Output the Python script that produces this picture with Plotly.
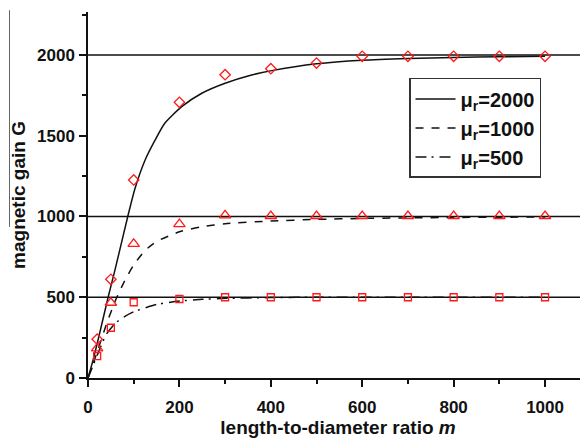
import plotly.graph_objects as go

# ---- data ----
m_meas = [20, 50, 100, 200, 300, 400, 500, 600, 700, 800, 900, 1000]
G_meas_2000 = [240, 611, 1226, 1707, 1878, 1915, 1950, 1992, 1992, 1992, 1992, 1992]
G_meas_1000 = [184, 466, 830, 953, 1007, 1003, 1003, 1003, 1003, 1003, 1003, 1003]
G_meas_500 = [135, 311, 469, 489, 500, 500, 500, 500, 500, 500, 500, 500]

m_curve_2000 = [0, 10, 22, 44, 60, 87, 103, 125, 147, 168, 205, 249, 300, 358, 402, 500, 600, 700, 800, 900, 1000]
G_curve_2000 = [0, 100, 235, 500, 680, 1000, 1175, 1350, 1474, 1577, 1680, 1763, 1825, 1876, 1903, 1945, 1967, 1978, 1985, 1989, 1992]

m_curve_1000 = [0, 20, 40, 60, 80, 100, 125, 150, 200, 250, 300, 400, 500, 600, 800, 1000]
G_curve_1000 = [0, 160, 330, 480, 600, 700, 790, 845, 905, 937, 955, 972, 982, 988, 994, 997]

m_curve_500 = [0, 20, 40, 60, 80, 100, 150, 200, 250, 300, 400, 500, 1000]
G_curve_500 = [0, 140, 270, 340, 380, 410, 455, 476, 487, 493, 498, 500, 500]

ref_levels = [500, 1000, 2000]

legend_names = ["<b>μ<sub>r</sub>=2000</b>", "<b>μ<sub>r</sub>=1000</b>", "<b>μ<sub>r</sub>=500</b>"]

FONT = "Liberation Sans, Arial, sans-serif"
RED = "#ff1a1a"

fig = go.Figure()

curves = [
    (m_curve_2000, G_curve_2000, "solid", legend_names[0]),
    (m_curve_1000, G_curve_1000, "8px,8px", legend_names[1]),
    (m_curve_500, G_curve_500, "11px,5px,2px,6px", legend_names[2]),
]
for i, (xs, ys, dash, name) in enumerate(curves):
    fig.add_trace(go.Scatter(
        x=xs, y=ys, mode="lines", name=name, legendgroup=f"g{i}",
        line=dict(color="#111111", width=1.5, dash=dash, shape="spline", smoothing=0.6),
    ))

markers = [
    (G_meas_2000, "diamond-open", 8),
    (G_meas_1000, "triangle-up-open", 10),
    (G_meas_500, "square-open", 7),
]
for ys, sym, sz in markers:
    fig.add_trace(go.Scatter(
        x=m_meas, y=ys, mode="markers", showlegend=False,
        marker=dict(symbol=sym, size=sz, color=RED, line=dict(color=RED, width=1.3)),
    ))

for lv in ref_levels:
    fig.add_shape(type="line", xref="paper", x0=0, x1=1, yref="y", y0=lv, y1=lv,
                  line=dict(color="#111111", width=1.5), layer="below")

# thin artifact line at the left edge
fig.add_shape(type="line", xref="paper", yref="paper", x0=-0.157, x1=-0.157, y0=0.413, y1=1.005,
              line=dict(color="#666666", width=1))

axis_common = dict(
    showline=True, linecolor="#111111", linewidth=1.5,
    ticks="outside", ticklen=7, tickwidth=1.5, tickcolor="#111111",
    showgrid=False, zeroline=False, automargin=False,
    tickfont=dict(family=FONT, size=17, color="#111111", weight="bold"),
)

fig.update_layout(
    width=588, height=441,
    margin=dict(l=80, r=8, t=4, b=71),
    paper_bgcolor="white", plot_bgcolor="white",
    font=dict(family=FONT, color="#111111"),
    xaxis=dict(range=[0, 1094], dtick=200, tick0=0, ticklabelstandoff=6,
               minor=dict(dtick=100, ticklen=4, tickwidth=1.5, tickcolor="#111111", ticks="outside"),
               title=dict(text="<b>length-to-diameter ratio <i>m</i></b>",
                          font=dict(family=FONT, size=19, color="#111111"), standoff=4),
               **axis_common),
    yaxis=dict(range=[0, 2266], dtick=500, tick0=0, ticklabelstandoff=1,
               minor=dict(dtick=250, ticklen=4, tickwidth=1.5, tickcolor="#111111", ticks="outside"),
               title=dict(text="<b>magnetic gain G</b>",
                          font=dict(family=FONT, size=19, color="#111111"), standoff=17),
               **axis_common),
    legend=dict(x=0.642, y=0.82, xanchor="left", yanchor="top",
                bgcolor="white", bordercolor="#333333", borderwidth=1.5,
                font=dict(family=FONT, size=20, color="#111111"),
                traceorder="grouped", tracegroupgap=0, itemwidth=40),
    showlegend=True,
)

fig.write_html("out.html")
